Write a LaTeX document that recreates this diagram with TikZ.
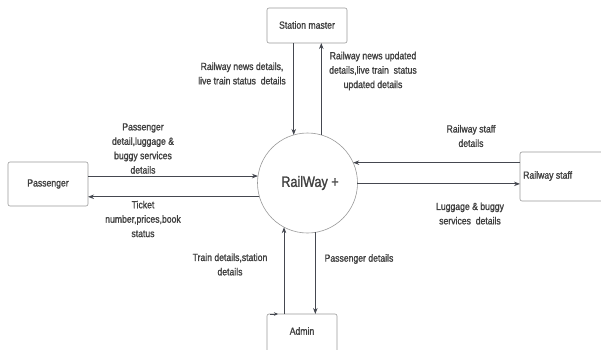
\documentclass[tikz,border=0pt]{standalone}
\usepackage{fontspec}
\setmainfont{Liberation Sans}[FakeStretch=0.84,FakeBold=1.3]
\usetikzlibrary{arrows.meta,calc}
\definecolor{txt}{HTML}{404040}
\definecolor{arrc}{HTML}{454850}
\definecolor{boxc}{HTML}{9A9A9A}
\begin{document}
\begin{tikzpicture}[x=1pt,y=-1pt,
  box/.style={draw=boxc,line width=0.6pt,rounded corners=2pt,inner sep=0pt,outer sep=0pt},
  lbl/.style={text=txt,font=\fontsize{10.3}{14.4}\selectfont,align=center,inner sep=0pt},
  arr/.style={draw=arrc,line width=0.9pt,-{Stealth[length=6pt,width=4.5pt]}}]
\useasboundingbox[fill=white] (0,0) rectangle (601,349);
% process circle
\node[circle,draw=boxc,line width=0.6pt,minimum size=100pt,inner sep=0pt,outer sep=0pt] (c) at (307.5,183) {};
\node[text=txt,font=\fontsize{15}{17}\selectfont,inner sep=0pt] (ct) at (310,183) {RailWay +};
% external entities
\node[box,minimum width=80pt,minimum height=35pt] (sm) at (307,25.5) {};
\node[lbl] (smt) at (307,25) {Station master};
\node[box,minimum width=80pt,minimum height=44pt] (p) at (48,184) {};
\node[lbl] (pt) at (48,184) {Passenger};
\node[box,minimum width=90pt,minimum height=49pt] (s) at (565,176.5) {};
\node[lbl,anchor=west] (st) at (523,176) {Railway staff};
\node[box,minimum width=70pt,minimum height=46pt] (a) at (302,337) {};
\node[lbl] (at) at (302,331) {Admin};
% flows: station master
\draw[arr] (sm.south -| c.106.3) -- (c.106.3);
\draw[arr] (c.74.9) -- (sm.south -| c.74.9);
\node[lbl] (l1) at (242,73.5) {Railway news details,\\live train status\ \ details};
\node[lbl] (l2) at (373,71) {Railway news updated\\details,live train\ \ status\\updated details};
% flows: passenger
\draw[arr] (p.east |- c.172) -- (c.172);
\draw[arr] (c.196.3) -- (p.east |- c.196.3);
\node[lbl] (l3) at (143,148.5) {Passenger\\detail,luggage \&\\buggy services\\details};
\node[lbl] (l4) at (143,219) {Ticket\\number,prices,book\\status};
% flows: railway staff
\draw[arr] (s.west |- c.24.8) -- (c.24.8);
\draw[arr] (c.-1.1) -- (s.west |- c.-1.1);
\node[lbl] (l5) at (471,136) {Railway staff\\details};
\node[lbl] (l6) at (470,213.5) {Luggage \& buggy\\services\ \ details};
% flows: admin
\draw[arr] (a.north -| c.242.6) -- (c.242.6);
\draw[arr] (c.279.2) -- (a.north -| c.279.2);
\coordinate (tip) at (278,314);
\draw[draw=arrc,line width=0.6pt,-{Stealth[length=4pt,width=3.5pt]}] (a.north west) ++(3,0) -- (tip);
\node[lbl] (l7) at (230,264.5) {Train details,station\\details};
\node[lbl] (l8) at (359,259) {Passenger details};
\end{tikzpicture}
\end{document}
